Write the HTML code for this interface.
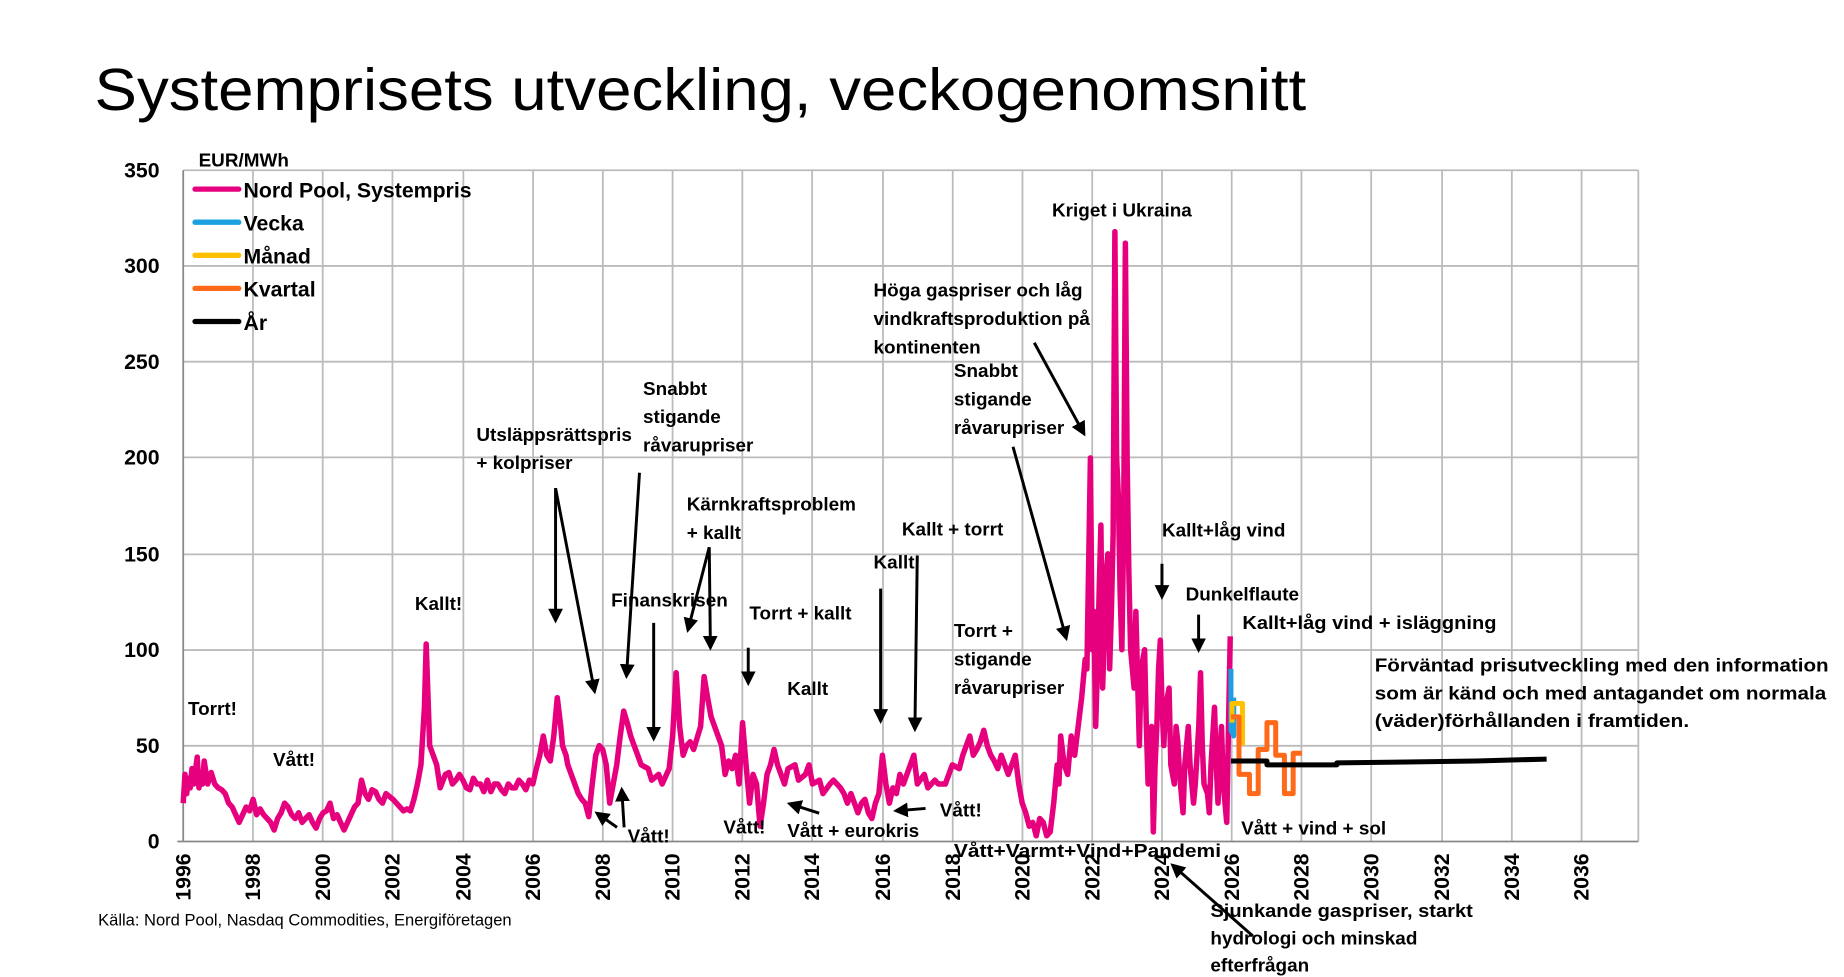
<!DOCTYPE html>
<html><head><meta charset="utf-8"><style>
html,body{margin:0;padding:0;background:#fff;}
svg{display:block;}
text{font-family:"Liberation Sans",sans-serif;fill:#000;}
.b{font-weight:bold;font-size:16px;}
.t{font-weight:bold;font-size:18px;}
.l{font-weight:bold;font-size:18px;}
</style></head><body>
<svg width="1844" height="977" viewBox="0 0 1560 826.6" preserveAspectRatio="none" xmlns="http://www.w3.org/2000/svg">
<defs><marker id="ar" viewBox="0 0 10 10" refX="8" refY="5" markerWidth="5" markerHeight="5" orient="auto"><path d="M0,0L10,5L0,10z" fill="#000"/></marker></defs>
<text x="80" y="93" font-size="50" textLength="1025" lengthAdjust="spacingAndGlyphs" fill="#111">Systemprisets utveckling, veckogenomsnitt</text>
<g stroke="#bbb" stroke-width="1.5">
<line x1="155" y1="144" x2="1386" y2="144"/><line x1="155" y1="225" x2="1386" y2="225"/><line x1="155" y1="306" x2="1386" y2="306"/><line x1="155" y1="387" x2="1386" y2="387"/><line x1="155" y1="469" x2="1386" y2="469"/><line x1="155" y1="550" x2="1386" y2="550"/><line x1="155" y1="631" x2="1386" y2="631"/>
<line x1="214" y1="144" x2="214" y2="712"/><line x1="273" y1="144" x2="273" y2="712"/><line x1="332" y1="144" x2="332" y2="712"/><line x1="392" y1="144" x2="392" y2="712"/><line x1="451" y1="144" x2="451" y2="712"/><line x1="510" y1="144" x2="510" y2="712"/><line x1="569" y1="144" x2="569" y2="712"/><line x1="628" y1="144" x2="628" y2="712"/><line x1="687" y1="144" x2="687" y2="712"/><line x1="747" y1="144" x2="747" y2="712"/><line x1="806" y1="144" x2="806" y2="712"/><line x1="865" y1="144" x2="865" y2="712"/><line x1="924" y1="144" x2="924" y2="712"/><line x1="983" y1="144" x2="983" y2="712"/><line x1="1042" y1="144" x2="1042" y2="712"/><line x1="1101" y1="144" x2="1101" y2="712"/><line x1="1160" y1="144" x2="1160" y2="712"/><line x1="1220" y1="144" x2="1220" y2="712"/><line x1="1279" y1="144" x2="1279" y2="712"/><line x1="1338" y1="144" x2="1338" y2="712"/><line x1="1386" y1="144" x2="1386" y2="712"/>
</g>
<line x1="155" y1="144" x2="155" y2="712" stroke="#888" stroke-width="1.5"/>
<line x1="150" y1="712" x2="1386" y2="712" stroke="#888" stroke-width="1.5"/>
<g class="t" text-anchor="end">
<text x="135" y="150">350</text><text x="135" y="231">300</text><text x="135" y="312">250</text><text x="135" y="393">200</text><text x="135" y="475">150</text><text x="135" y="556">100</text><text x="135" y="637">50</text><text x="135" y="718">0</text>
</g>
<g class="t" text-anchor="end">
<text transform="translate(161,722) rotate(-90)">1996</text><text transform="translate(220,722) rotate(-90)">1998</text><text transform="translate(279,722) rotate(-90)">2000</text><text transform="translate(338,722) rotate(-90)">2002</text><text transform="translate(398,722) rotate(-90)">2004</text><text transform="translate(457,722) rotate(-90)">2006</text><text transform="translate(516,722) rotate(-90)">2008</text><text transform="translate(575,722) rotate(-90)">2010</text><text transform="translate(634,722) rotate(-90)">2012</text><text transform="translate(693,722) rotate(-90)">2014</text><text transform="translate(753,722) rotate(-90)">2016</text><text transform="translate(812,722) rotate(-90)">2018</text><text transform="translate(871,722) rotate(-90)">2020</text><text transform="translate(930,722) rotate(-90)">2022</text><text transform="translate(989,722) rotate(-90)">2024</text><text transform="translate(1048,722) rotate(-90)">2026</text><text transform="translate(1107,722) rotate(-90)">2028</text><text transform="translate(1166,722) rotate(-90)">2030</text><text transform="translate(1226,722) rotate(-90)">2032</text><text transform="translate(1285,722) rotate(-90)">2034</text><text transform="translate(1344,722) rotate(-90)">2036</text>
</g>
<g transform="translate(155,712) scale(29.575,-1.6229)" fill="none" stroke-linejoin="round">
<polyline vector-effect="non-scaling-stroke" stroke="#e6007e" stroke-width="5.5" points="0,20 0.05,35 0.1,25 0.15,33 0.2,28 0.25,38 0.3,30 0.4,44 0.45,28 0.5,35 0.55,30 0.6,42 0.7,30 0.8,36 0.9,30 1.0,28 1.1,27 1.2,25 1.3,20 1.4,18 1.5,14 1.6,10 1.7,14 1.8,18 1.9,16 2.0,22 2.1,14 2.2,17 2.3,14 2.4,12 2.5,10 2.6,6 2.7,12 2.8,15 2.9,20 3.0,18 3.1,14 3.2,12 3.3,15 3.4,10 3.5,12 3.6,14 3.7,10 3.8,7 3.9,12 4.0,15 4.1,16 4.2,20 4.3,12 4.4,14 4.5,10 4.6,6 4.7,10 4.8,14 4.9,18 5.0,20 5.1,32 5.2,25 5.3,22 5.4,27 5.5,26 5.6,22 5.7,20 5.8,25 6.0,22 6.1,20 6.2,18 6.3,16 6.4,17 6.5,16 6.6,22 6.7,30 6.8,40 6.9,70 6.95,103 7.05,50 7.15,45 7.25,40 7.35,28 7.5,35 7.6,36 7.7,30 7.8,32 7.9,35 8.0,32 8.1,28 8.2,27 8.3,33 8.4,30 8.5,30 8.6,26 8.7,32 8.8,26 8.9,30 9.0,30 9.1,27 9.2,25 9.3,30 9.4,28 9.5,28 9.6,32 9.7,30 9.8,27 9.9,32 10.0,30 10.1,38 10.2,45 10.3,55 10.4,45 10.5,42 10.6,55 10.7,75 10.8,60 10.85,50 10.95,45 11.0,40 11.1,35 11.2,30 11.3,25 11.4,22 11.5,20 11.6,13 11.7,30 11.8,45 11.9,50 12.0,48 12.1,40 12.2,20 12.3,30 12.4,40 12.5,55 12.6,68 12.7,62 12.8,55 12.9,50 13.0,45 13.1,40 13.3,38 13.4,32 13.6,35 13.7,30 13.9,38 14.0,55 14.1,88 14.2,60 14.3,45 14.4,50 14.5,52 14.6,48 14.8,60 14.9,86 15.0,75 15.1,65 15.2,60 15.3,55 15.4,50 15.5,35 15.6,42 15.7,38 15.8,45 15.9,30 16.0,62 16.1,40 16.2,20 16.3,35 16.4,30 16.5,8 16.6,20 16.7,35 16.8,40 16.9,48 17.0,40 17.1,35 17.2,30 17.3,38 17.5,40 17.6,32 17.8,35 17.9,40 18.0,30 18.2,32 18.3,25 18.5,30 18.6,32 18.8,28 18.9,25 19.0,20 19.1,25 19.3,15 19.4,20 19.5,22 19.6,15 19.7,12 19.8,20 19.9,25 20.0,45 20.1,30 20.2,20 20.3,28 20.4,25 20.5,35 20.6,30 20.7,35 20.8,40 20.9,45 21.0,30 21.2,35 21.3,28 21.5,32 21.6,30 21.8,30 21.9,35 22.0,40 22.2,38 22.3,45 22.4,50 22.5,55 22.6,45 22.7,48 22.8,52 22.9,58 23.0,50 23.1,45 23.2,42 23.3,38 23.4,45 23.6,35 23.7,40 23.8,45 23.9,30 24.0,20 24.1,15 24.2,8 24.3,10 24.4,3 24.5,12 24.6,10 24.7,3 24.8,5 24.9,20 25.0,40 25.05,30 25.1,55 25.2,40 25.3,35 25.4,55 25.5,45 25.6,60 25.7,75 25.8,95 25.85,90 25.95,200 26.0,100 26.05,120 26.1,60 26.15,90 26.2,130 26.25,165 26.3,80 26.35,110 26.4,140 26.45,150 26.5,90 26.55,120 26.6,160 26.65,318 26.7,200 26.75,180 26.8,130 26.85,100 26.9,160 26.95,312 27.0,200 27.05,140 27.1,100 27.2,80 27.25,120 27.35,50 27.4,90 27.5,100 27.55,60 27.6,30 27.7,60 27.75,5 27.8,40 27.85,60 27.9,90 27.95,105 28.0,70 28.05,50 28.1,70 28.2,80 28.25,40 28.35,30 28.4,60 28.45,52 28.5,35 28.6,15 28.65,40 28.75,60 28.8,40 28.9,20 28.95,30 29.0,45 29.05,60 29.1,88 29.15,50 29.2,30 29.3,25 29.35,15 29.4,40 29.5,70 29.55,40 29.6,20 29.65,45 29.7,60 29.75,30 29.85,10 29.9,60 29.95,107"/>
<polyline vector-effect="non-scaling-stroke" stroke="#1ca0e0" stroke-width="5" points="29.97,90 29.97,58 30.05,55 30.05,75"/>
<polyline vector-effect="non-scaling-stroke" stroke="#ffc000" stroke-width="5" points="30.0,62 30.0,72 30.3,72 30.3,50"/>
<polyline vector-effect="non-scaling-stroke" stroke="#ff6a1a" stroke-width="5" points="29.97,65 30.2,65 30.2,35 30.5,35 30.5,25 30.75,25 30.75,48 31.0,48 31.0,62 31.25,62 31.25,45 31.5,45 31.5,25 31.75,25 31.75,46 32.0,46"/>
<polyline vector-effect="non-scaling-stroke" stroke="#000" stroke-width="5" points="29.97,42 31.0,42 31.0,40 33.0,40 33.0,41 35.0,41.5 37.0,42 38.0,42.5 39.0,43"/>
</g>
<text x="168" y="141" class="b">EUR/MWh</text>
<g stroke-width="4.5" stroke-linecap="round">
<line x1="165" y1="160" x2="202" y2="160" stroke="#e6007e"/><line x1="165" y1="188" x2="202" y2="188" stroke="#1ca0e0"/><line x1="165" y1="216" x2="202" y2="216" stroke="#ffc000"/><line x1="165" y1="244" x2="202" y2="244" stroke="#ff6a1a"/><line x1="165" y1="272" x2="202" y2="272" stroke="#000"/>
</g>
<g class="l">
<text x="206" y="167">Nord Pool, Systempris</text><text x="206" y="195">Vecka</text><text x="206" y="223">Månad</text><text x="206" y="251">Kvartal</text><text x="206" y="279">År</text>
</g>
<g class="b">
<text x="159" y="605">Torrt!</text><text x="231" y="648">Vått!</text><text x="351" y="516">Kallt!</text>
<text x="403" y="373">Utsläppsrättspris</text><text x="403" y="397">+ kolpriser</text>
<text x="544" y="334">Snabbt</text><text x="544" y="358">stigande</text><text x="544" y="382">råvarupriser</text>
<text x="581" y="432">Kärnkraftsproblem</text><text x="581" y="456">+ kallt</text>
<text x="517" y="513">Finanskrisen</text><text x="634" y="524">Torrt + kallt</text><text x="666" y="588">Kallt</text>
<text x="739" y="481">Kallt</text><text x="763" y="453">Kallt + torrt</text>
<text x="531" y="713">Vått!</text><text x="612" y="705">Vått!</text><text x="666" y="708">Vått + eurokris</text><text x="795" y="691">Vått!</text>
<text x="739" y="251">Höga gaspriser och låg</text><text x="739" y="275">vindkraftsproduktion på</text><text x="739" y="299">kontinenten</text>
<text x="807" y="319">Snabbt</text><text x="807" y="343">stigande</text><text x="807" y="367">råvarupriser</text>
<text x="890" y="183">Kriget i Ukraina</text>
<text x="807" y="539">Torrt +</text><text x="807" y="563">stigande</text><text x="807" y="587">råvarupriser</text>
<text x="807" y="725" textLength="226" lengthAdjust="spacingAndGlyphs">Vått+Varmt+Vind+Pandemi</text>
<text x="983" y="454">Kallt+låg vind</text><text x="1003" y="508">Dunkelflaute</text>
<text x="1051" y="532" textLength="215" lengthAdjust="spacingAndGlyphs">Kallt+låg vind + isläggning</text>
<text x="1163" y="568" textLength="384" lengthAdjust="spacingAndGlyphs">Förväntad prisutveckling med den information</text>
<text x="1163" y="592" textLength="382" lengthAdjust="spacingAndGlyphs">som är känd och med antagandet om normala</text>
<text x="1163" y="615" textLength="266" lengthAdjust="spacingAndGlyphs">(väder)förhållanden i framtiden.</text>
<text x="1050" y="706">Vått + vind + sol</text>
<text x="1024" y="776" textLength="222" lengthAdjust="spacingAndGlyphs">Sjunkande gaspriser, starkt</text><text x="1024" y="799">hydrologi och minskad</text><text x="1024" y="822">efterfrågan</text>
</g>
<text x="83" y="783" font-size="14">Källa: Nord Pool, Nasdaq Commodities, Energiföretagen</text>
<g stroke="#000" stroke-width="2.5" marker-end="url(#ar)">
<line x1="470" y1="413" x2="470" y2="525"/><line x1="470" y1="413" x2="503" y2="585"/>
<line x1="541" y1="400" x2="530" y2="572"/><line x1="553" y1="527" x2="553" y2="625"/>
<line x1="600" y1="463" x2="582" y2="533"/><line x1="600" y1="463" x2="601" y2="548"/>
<line x1="633" y1="548" x2="633" y2="578"/><line x1="745" y1="498" x2="745" y2="610"/>
<line x1="776" y1="470" x2="774" y2="617"/><line x1="875" y1="290" x2="917" y2="367"/>
<line x1="857" y1="378" x2="902" y2="540"/><line x1="983" y1="477" x2="983" y2="505"/>
<line x1="1014" y1="520" x2="1014" y2="550"/><line x1="528" y1="700" x2="526" y2="668"/>
<line x1="522" y1="700" x2="505" y2="688"/><line x1="693" y1="688" x2="668" y2="680"/>
<line x1="783" y1="684" x2="758" y2="686"/><line x1="1060" y1="792" x2="992" y2="732"/>
</g>
</svg>
</body></html>
